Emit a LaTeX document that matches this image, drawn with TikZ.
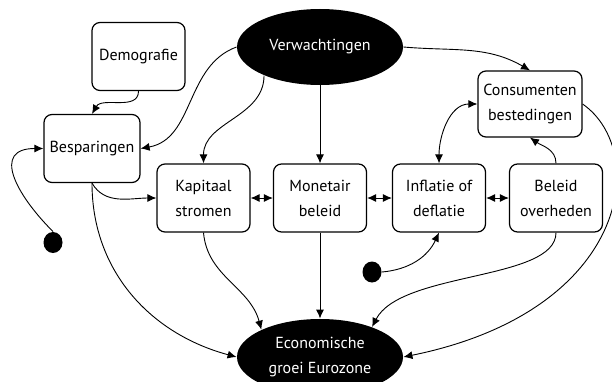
\documentclass[tikz,border=0pt]{standalone}
\usepackage{fontspec}
\setmainfont{PT Sans}
\usetikzlibrary{shapes.geometric,arrows.meta}
\tikzset{
  every block/.style={
    rectangle,
    rounded corners=8pt,
    draw,
    line width=1.2pt,
    minimum width=93pt,
    minimum height=68pt,
    inner sep=0pt,
    align=center
  },
  every cloud/.style={
    ellipse,
    fill=black,
    text=white,
    minimum width=166pt,
    minimum height=76pt,
    inner sep=0pt,
    align=center
  },
  every dot/.style={
    ellipse,
    fill=black,
    minimum width=19pt,
    minimum height=21pt,
    inner sep=0pt
  }
}

\begin{document}
\begin{tikzpicture}[x=1pt, y=1pt, line width=0.9pt, >={Latex[length=9pt,width=8pt]}, font=\fontsize{16}{25}\selectfont]
  \useasboundingbox (0,0) rectangle (612,381);
  % Node placement
  \node [every cloud] (V) at (320,334) {Verwachtingen};
  \node [every cloud] (E) at (320,24) {Economische\\groei Eurozone};
  \node [every block] (D) at (138.5,324.5) {Demografie};
  \node [every block, minimum width=96pt] (B) at (92,232.5) {Besparingen};
  \node [every block] (K) at (203.5,183) {Kapitaal\\stromen};
  \node [every block] (M) at (320,183) {Monetair\\beleid};
  \node [every block] (I) at (439,183) {Inflatie of\\deflatie};
  \node [every block] (O) at (556,183) {Beleid\\overheden};
  \node [every block, minimum width=104pt, minimum height=66pt] (C) at (530,277) {Consumenten\\bestedingen};
  \node [every dot] (P1) at (53,138.5) {};
  \node [every dot] (P2) at (372,109) {};

  % Arrows
  \draw[->] (V.west) to[out=200,in=10] (B.east);
  \draw[->] (V.207) to[out=-90,in=90] (K.north);
  \draw[->] (V) -- (M);
  \draw[->] (V.east) to[out=-5,in=150] (C.north);
  \draw[->] (D.south) to[out=-90,in=60] (B.north);
  \draw[->] (P1.north) to[out=135,in=180,looseness=1.6] (B.west);
  \draw[->] (B.south) to[out=-60,in=180] (K.west);
  \draw[->] (B.south) to[out=-90,in=165] (E.west);
  \draw[<->] (K.east) -- (M.west);
  \draw[<->] (M.east) -- (I.west);
  \draw[<->] (I.east) -- (O.west);
  \draw[<->] (I.north) to[out=90,in=180] (C.west);
  \draw[->] (O.north) to[out=90,in=-35] (C.south);
  \draw[->] (C.east) .. controls (650,230) and (630,70) .. (E.east);
  \draw[->] (O.south) .. controls (556,100) and (401,110) .. (E.30);
  \draw[->] (P2.east) to[out=5,in=-115] (I.south);
  \draw[->] (K.south) to[out=-85,in=105] (E.155);
  \draw[->] (M) -- (E);
\end{tikzpicture}
\end{document}
